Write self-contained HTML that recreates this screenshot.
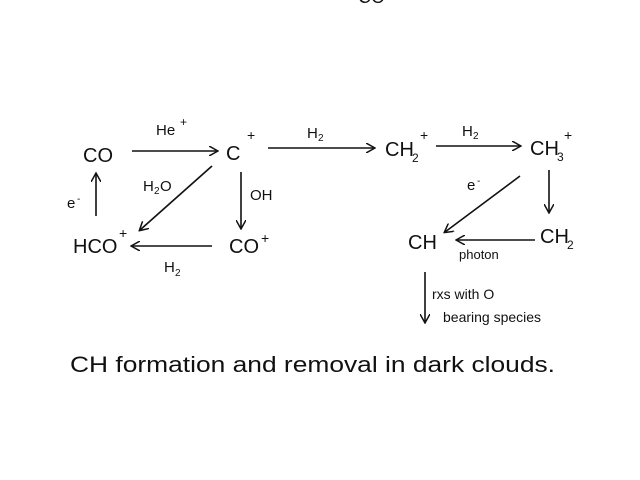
<!DOCTYPE html>
<html><head><meta charset="utf-8"><style>
body{margin:0;background:#fff}
svg{display:block}
text{font-family:"Liberation Sans",sans-serif;fill:#111}
</style></head><body>
<svg width="640" height="480" viewBox="0 0 640 480" xmlns="http://www.w3.org/2000/svg">
<defs><marker id="a" markerWidth="10" markerHeight="10" refX="8" refY="5" orient="auto" markerUnits="userSpaceOnUse"><path d="M0,0 L9,5 L0,10" fill="none" stroke="#111" stroke-width="1.5"/></marker></defs>
<text x="358" y="3" font-size="18">CO</text>
<g stroke="#111" stroke-width="1.6" fill="none" marker-end="url(#a)">
<line x1="132" y1="151" x2="217" y2="151"/>
<line x1="268" y1="148" x2="374" y2="148"/>
<line x1="436" y1="146" x2="520" y2="146"/>
<line x1="212" y1="166" x2="140" y2="230"/>
<line x1="241" y1="172" x2="241" y2="228"/>
<line x1="212" y1="246" x2="132" y2="246"/>
<line x1="96" y1="216" x2="96" y2="174"/>
<line x1="549" y1="170" x2="549" y2="212"/>
<line x1="520" y1="176" x2="445" y2="232"/>
<line x1="535" y1="240" x2="457" y2="240"/>
<line x1="425" y1="272" x2="425" y2="322"/>
</g>
<g font-size="20">
<text x="83" y="162">CO</text>
<text x="226" y="160">C</text><text x="247" y="140" font-size="14">+</text>
<text x="385" y="156">CH</text><text x="412" y="162" font-size="12">2</text><text x="420" y="140" font-size="14">+</text>
<text x="530" y="155">CH</text><text x="557" y="161" font-size="12">3</text><text x="564" y="140" font-size="14">+</text>
<text x="540" y="243">CH</text><text x="567" y="249" font-size="12">2</text>
<text x="408" y="249">CH</text>
<text x="73" y="253">HCO</text><text x="119" y="238" font-size="14">+</text>
<text x="229" y="253">CO</text><text x="261" y="243" font-size="14">+</text>
</g>
<g font-size="15">
<text x="156" y="135">He</text><text x="180" y="126" font-size="12">+</text>
<text x="307" y="138">H</text><text x="318" y="141" font-size="10">2</text>
<text x="462" y="136">H</text><text x="473" y="139" font-size="10">2</text>
<text x="143" y="191">H</text><text x="154" y="194" font-size="10">2</text><text x="160" y="191">O</text>
<text x="250" y="200">OH</text>
<text x="164" y="272">H</text><text x="175" y="276" font-size="10">2</text>
<text x="67" y="208">e</text><text x="77" y="202" font-size="10">-</text>
<text x="467" y="190">e</text><text x="477" y="184" font-size="10">-</text>
<text x="459" y="259" font-size="13">photon</text>
<text x="432" y="299" font-size="14">rxs with O</text>
<text x="443" y="322" font-size="14">bearing species</text>
</g>
<text x="70" y="372" font-size="22" textLength="485" lengthAdjust="spacingAndGlyphs">CH formation and removal in dark clouds.</text>
</svg>
</body></html>
